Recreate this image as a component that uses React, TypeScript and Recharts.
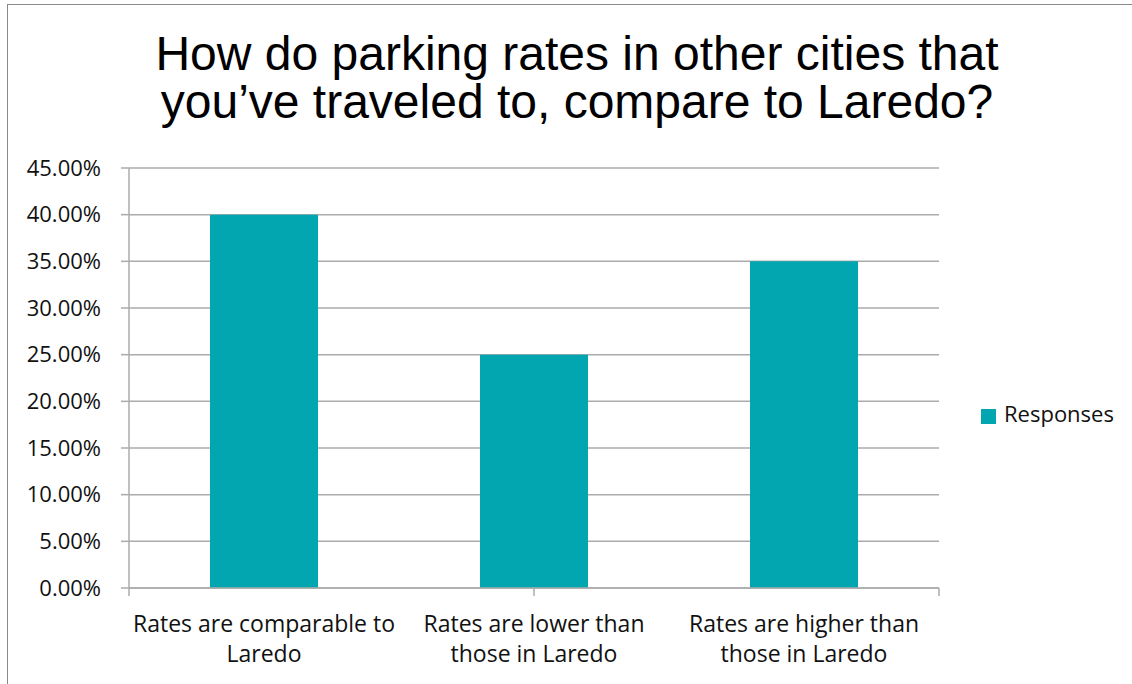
import React from "react";
import { BarChart, Bar, XAxis, YAxis, CartesianGrid, Legend } from "recharts";

const categories = [
  "Rates are comparable to\nLaredo",
  "Rates are lower than\nthose in Laredo",
  "Rates are higher than\nthose in Laredo",
];
const responses = [0.4, 0.25, 0.35];
const yTicks = [0, 0.05, 0.1, 0.15, 0.2, 0.25, 0.3, 0.35, 0.4, 0.45];
const edgeTicks = [0, 1, 2, 3];
const titleLines = [
  "How do parking rates in other cities that",
  "you\u2019ve traveled to, compare to Laredo?",
];

const data = categories.map((name, i) => ({ name, responses: responses[i] }));

const LABEL_FONT = "'Open Sans', sans-serif";
const LEGEND_WIDTH = 150;

const CategoryTick = (props: any) => {
  const { x, y, payload } = props;
  const lines = String(payload.value).split("\n");
  return (
    <text
      x={x}
      y={y}
      textAnchor="middle"
      style={{ fontFamily: LABEL_FONT, fontSize: 23, fill: "#111" }}
    >
      {lines.map((line, i) => (
        <tspan key={i} x={x} dy={i === 0 ? 28 : 30}>
          {line}
        </tspan>
      ))}
    </text>
  );
};

const NoTick = () => <g />;

const App = () => {
  return (
    <div style={{ position: "absolute", left: 0, top: 0, width: 1132, height: 684, background: "#fff", overflow: "hidden" }}>
      <div
        style={{
          position: "absolute",
          left: 7,
          top: 4,
          width: 1140,
          height: 700,
          borderLeft: "1.5px solid #8a8a8a",
          borderTop: "1.5px solid #8a8a8a",
        }}
      />
      <div
        style={{
          position: "absolute",
          left: 7,
          top: 30,
          width: 1140,
          textAlign: "center",
          fontFamily: "'Liberation Sans', Arial, sans-serif",
          fontSize: 48,
          lineHeight: "48px",
          color: "#000",
        }}
      >
        {titleLines.map((line) => (
          <div key={line}>{line}</div>
        ))}
      </div>
      <div style={{ position: "absolute", left: 0, top: 0 }}>
        <BarChart
          width={1132}
          height={684}
          data={data}
          margin={{ top: 168, right: 193 - LEGEND_WIDTH, bottom: 0, left: 8 }}
          barCategoryGap="30%"
        >
          <CartesianGrid vertical={false} stroke="#ababab" strokeWidth={1.5} xAxisId="b" />
          <XAxis
            xAxisId="a"
            type="number"
            domain={[0, 3]}
            ticks={edgeTicks}
            height={8}
            tickSize={8}
            tick={NoTick}
            axisLine={{ stroke: "#ababab", strokeWidth: 1.5 }}
            tickLine={{ stroke: "#ababab", strokeWidth: 1.5 }}
          />
          <XAxis
            xAxisId="b"
            dataKey="name"
            height={88}
            axisLine={false}
            tickLine={false}
            tick={CategoryTick}
            interval={0}
          />
          <YAxis
            width={121}
            domain={[0, 0.45]}
            ticks={yTicks}
            tickSize={8}
            tickMargin={20}
            tickFormatter={(v: number) => `${(v * 100).toFixed(2)}%`}
            tick={{ fontFamily: LABEL_FONT, fontSize: 22, fill: "#111" }}
            axisLine={{ stroke: "#ababab", strokeWidth: 1.5 }}
            tickLine={{ stroke: "#ababab", strokeWidth: 1.5 }}
          />
          <Legend
            layout="vertical"
            align="right"
            verticalAlign="top"
            iconType="square"
            iconSize={15}
            wrapperStyle={{ left: 981, top: 398, width: LEGEND_WIDTH, fontFamily: LABEL_FONT, fontSize: 22 }}
            formatter={(value: string) => <span style={{ color: "#111", paddingLeft: 4 }}>{value}</span>}
          />
          <Bar
            xAxisId="b"
            dataKey="responses"
            name="Responses"
            fill="#02a6b1"
            isAnimationActive={false}
          />
        </BarChart>
      </div>
    </div>
  );
};

export default App;
